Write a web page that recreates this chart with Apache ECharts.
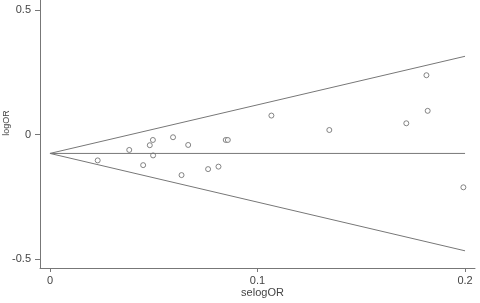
<!DOCTYPE html>
<html>
<head>
<meta charset="utf-8">
<script src="https://cdn.jsdelivr.net/npm/echarts@6/dist/echarts.min.js"></script>
<style>
  html, body { margin: 0; padding: 0; background: #fff; }
  #chart { width: 480px; height: 303px; }
</style>
</head>
<body>
<div id="chart"></div>
<script>
// study points: standard error of logOR, logOR
const selogOR = [0.0230, 0.0382, 0.0449, 0.0481, 0.0496, 0.0497, 0.0593, 0.0634, 0.0666, 0.0762,
  0.0812, 0.0847, 0.0857, 0.1067, 0.1346, 0.1717, 0.1814, 0.1820, 0.1992];
const logOR = [-0.104, -0.062, -0.123, -0.043, -0.022, -0.084, -0.011, -0.163, -0.042, -0.139,
  -0.129, -0.022, -0.022, 0.076, 0.018, 0.045, 0.238, 0.095, -0.212];

// pseudo 95% limits, read at se = 0 and se = 0.2
const funnelX = [0, 0.2];
const pooled = [-0.076, -0.076];
const upperLimit = [-0.076, 0.314];
const lowerLimit = [-0.076, -0.467];

const xTicks = [0, 0.1, 0.2];
const yTicks = [-0.5, 0, 0.5];

const textColor = '#444';
const lineColor = '#777';

const chart = echarts.init(document.getElementById('chart'));

function lineData(ys) {
  return funnelX.map((x, i) => [x, ys[i]]);
}

const lineStyle = { color: lineColor, width: 1 };

chart.setOption({
  animation: false,
  grid: { left: 40, right: 5, top: 0, bottom: 35, containLabel: false, outerBoundsMode: 'none' },
  xAxis: {
    type: 'value',
    min: -0.0048,
    max: 0.2048,
    name: 'selogOR',
    nameLocation: 'middle',
    nameGap: 19,
    nameMoveOverlap: false,
    nameTextStyle: { color: textColor, fontSize: 11, fontFamily: 'Liberation Sans', padding: [0, 0, 0, 10] },
    axisLine: { onZero: false, lineStyle: { color: lineColor } },
    axisTick: { show: true, length: 4, customValues: xTicks, lineStyle: { color: lineColor } },
    axisLabel: {
      customValues: xTicks,
      color: textColor, fontSize: 11, fontFamily: 'Liberation Sans', margin: 7,
      formatter: v => String(+v.toFixed(2))
    },
    splitLine: { show: false }
  },
  yAxis: {
    type: 'value',
    min: -0.536,
    max: 0.540,
    name: 'logOR',
    nameLocation: 'middle',
    nameGap: 29,
    nameRotate: 90,
    nameMoveOverlap: false,
    nameTextStyle: { color: textColor, fontSize: 9, fontFamily: 'Liberation Sans', padding: [0, 0, 0, 22] },
    axisLine: { show: true, onZero: false, lineStyle: { color: lineColor } },
    axisTick: { show: true, length: 5, customValues: yTicks, lineStyle: { color: lineColor } },
    axisLabel: {
      customValues: yTicks,
      color: textColor, fontSize: 11, fontFamily: 'Liberation Sans', margin: 9,
      formatter: v => String(+v.toFixed(2))
    },
    splitLine: { show: false }
  },
  series: [
    { type: 'line', data: lineData(upperLimit), symbol: 'none', lineStyle: lineStyle, silent: true },
    { type: 'line', data: lineData(pooled), symbol: 'none', lineStyle: lineStyle, silent: true },
    { type: 'line', data: lineData(lowerLimit), symbol: 'none', lineStyle: lineStyle, silent: true },
    {
      type: 'scatter',
      data: selogOR.map((x, i) => [x, logOR[i]]),
      symbol: 'circle',
      symbolSize: 5,
      itemStyle: { color: '#fff', borderColor: '#666', borderWidth: 1 }
    }
  ]
});
</script>
</body>
</html>
